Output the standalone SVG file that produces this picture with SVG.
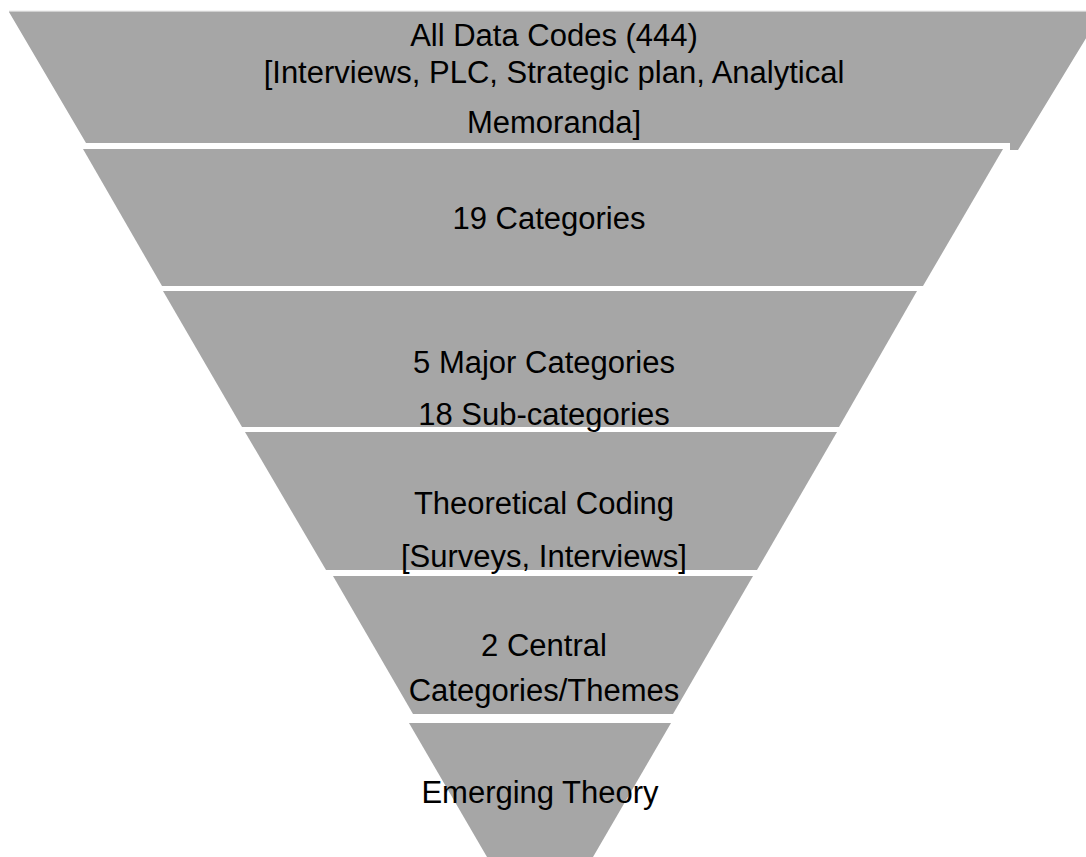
<svg xmlns="http://www.w3.org/2000/svg" width="1086" height="857" viewBox="0 0 1086 857">
<style>
.layer{fill:#A6A6A6;}
.t{font-family:"Liberation Sans",Arial,sans-serif;font-size:31px;fill:#000;text-anchor:middle;}
</style>
<rect width="1086" height="857" fill="#fff"/>
<g id="layer1">
<line x1="9" y1="11.5" x2="1086" y2="11.5" stroke="#d0d0d0" stroke-width="1.5"/>
<polygon class="layer" points="9,12 1102,12 1018,150 1010,150 1010,143 86,143"/>
<text class="t" x="554" y="46">All Data Codes (444)</text>
<text class="t" x="554" y="83">[Interviews, PLC, Strategic plan, Analytical</text>
<text class="t" x="554" y="133">Memoranda]</text>
</g>
<g id="layer2">
<polygon class="layer" points="83,149 1003,149 923,286 162,286"/>
<text class="t" x="549" y="229">19 Categories</text>
</g>
<g id="layer3">
<polygon class="layer" points="163,291 917,291 839,427 242,427"/>
<text class="t" x="544" y="373">5 Major Categories</text>
<text class="t" x="544" y="425">18 Sub-categories</text>
</g>
<g id="layer4">
<polygon class="layer" points="245,432 837,432 757,570 326,570"/>
<text class="t" x="544" y="514">Theoretical Coding</text>
<text class="t" x="544" y="567">[Surveys, Interviews]</text>
</g>
<g id="layer5">
<polygon class="layer" points="333,576 753,576 673,714 413,714"/>
<text class="t" x="544" y="656">2 Central</text>
<text class="t" x="544" y="701">Categories/Themes</text>
</g>
<g id="layer6">
<polygon class="layer" points="409,723 671,723 593,857 487,857"/>
<text class="t" x="540" y="803">Emerging Theory</text>
</g>
<g id="connectors"/>
</svg>
